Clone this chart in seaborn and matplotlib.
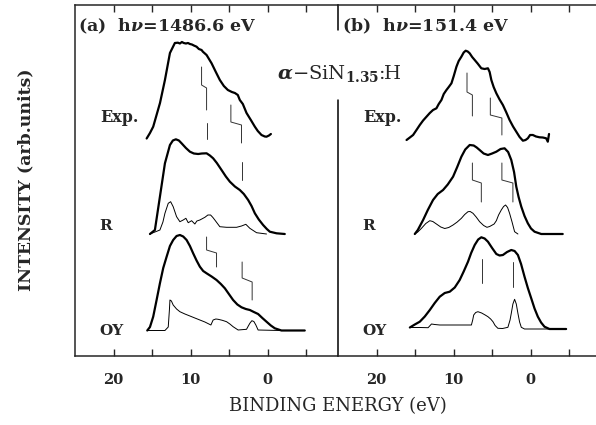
import matplotlib
matplotlib.use("Agg")
import matplotlib.pyplot as plt
import seaborn as sns

sns.set_style("ticks")
plt.rcParams['font.family'] = ['DejaVu Serif']
plt.rcParams['mathtext.fontset'] = 'dejavuserif'

# ---- data (binding energy in eV, intensity in arb. units) ----
# panel (a) hv = 1486.6 eV
a_exp_e = [15.71, 15.28, 14.86, 13.98, 13.34, 12.69, 12.05, 11.66, 11.40, 11.14, 10.90, 10.62,
           10.35, 10.10, 9.84, 9.59, 9.24, 8.94, 8.59, 8.42, 7.94, 7.29, 6.74, 6.22, 5.70, 5.18,
           4.66, 4.27, 3.89, 3.63, 3.24, 2.76, 2.20, 1.68, 1.30, 0.82, 0.39, 0.17, -0.15, -0.40]
a_exp_i = [1.5, 7, 13.3, 37, 60, 87, 97, 97.3, 96.5, 98, 97, 96.5, 97, 96, 95.5, 94.5, 93.3,
           91, 90, 88.3, 85, 76.7, 68, 60, 54, 50, 48, 47, 45, 40, 36, 27, 20, 13.3, 9, 5, 3.5,
           3.3, 4.5, 6]
a_r_e = [15.28, 14.64, 13.99, 13.34, 12.69, 12.31, 11.92, 11.53, 11.18, 10.62, 10.10, 9.59,
         9.03, 8.55, 7.94, 7.51, 7.09, 6.61, 6.00, 5.44, 4.92, 4.27, 3.63, 3.11, 2.55, 2.11,
         1.68, 1.17, 0.61, 0.13, -0.26, -1.13, -2.20]
a_r_i = [0, 4, 37.3, 70.7, 89, 93.5, 94.7, 93.5, 90.7, 86, 82.3, 80.5, 80, 80.5, 80.7, 78.5,
         75.7, 71, 64, 57.5, 52.3, 47.5, 44, 40, 34, 28, 20.7, 14.5, 9, 5, 2.3, 0.7, 0]
a_rt_e = [15.28, 13.99, 13.60, 13.34, 12.91, 12.60, 12.27, 11.83, 11.40, 10.97, 10.62, 10.32,
          9.88, 9.46, 9.20, 8.81, 8.16, 7.77, 7.42, 7.12, 6.87, 6.22, 5.35, 4.05, 3.41, 2.85,
          2.33, 1.46, 0.17]
a_rt_i = [0, 4, 12, 20.7, 30.7, 32.3, 27.3, 17.3, 12.3, 14, 15.7, 11.3, 13.3, 10, 13, 14, 16.7,
          19, 19, 16.5, 14, 7.3, 6.7, 6.7, 8, 9.7, 5.7, 1.3, 0]
a_oy_e = [15.63, 15.28, 14.86, 14.42, 13.99, 13.56, 13.12, 12.69, 12.27, 11.83, 11.40, 10.97,
          10.53, 10.10, 9.68, 9.24, 8.81, 8.38, 7.94, 7.29, 6.65, 6.09, 5.57, 5.05, 4.50, 3.95,
          3.41, 2.85, 2.33, 1.81, 1.26, 0.71, 0.17, -0.39, -0.91, -1.77, -4.79]
a_oy_i = [0, 3.5, 13.8, 30.5, 47.2, 62.5, 73.8, 84.5, 90.5, 94.5, 95.5, 94, 90.5, 84.5, 77.2,
          70, 63.8, 59.5, 57.2, 54, 50.5, 46.5, 42.2, 36.5, 30.5, 26, 23.2, 21.5, 20.5, 18.5,
          16.5, 12.5, 8.8, 5, 2.2, 0, 0]
a_oyt_e = [15.63, 13.34, 12.91, 12.76, 12.69, 12.50, 12.27, 11.83, 11.40, 10.75, 10.10, 9.46,
           8.81, 8.16, 7.38, 7.09, 6.74, 6.44, 5.90, 5.35, 4.92, 4.50, 3.85, 2.76, 2.53, 2.33,
           2.07, 1.81, 1.55, 1.26, -1.55]
a_oyt_i = [0, 0, 3.5, 20.5, 30.5, 29.5, 25.5, 21.5, 18.8, 16.5, 14.5, 12.5, 10.5, 8.5, 5.5,
           10.5, 11.5, 11.2, 10.2, 8.8, 6.5, 3.8, 0.5, 1.2, 4.5, 7.2, 9.8, 9, 5.5, 0.5, 0]

# panel (b) hv = 151.4 eV
b_exp_e = [16.10, 15.67, 15.25, 14.81, 14.38, 13.95, 13.51, 13.08, 12.66, 12.22, 11.92, 11.57,
           11.27, 10.92, 10.62, 10.27, 9.97, 9.62, 9.33, 8.98, 8.68, 8.42, 8.16, 7.90, 7.58,
           7.25, 6.87, 6.39, 5.96, 5.53, 5.31, 5.09, 4.79, 4.44, 4.02, 3.59, 3.17, 2.72, 2.27,
           1.85, 1.42, 0.99, 0.65, 0.35, 0.06, -0.30, -0.71, -1.17, -1.59, -2.03, -2.24, -2.40]
b_exp_i = [0, 2.5, 5, 10, 15, 19.5, 23.3, 27, 30, 31.7, 36, 40, 46, 50, 53, 56.7, 64, 73.3, 79,
           83.3, 87.5, 89.3, 88.5, 86.7, 83, 80, 76.5, 71.7, 71, 71.7, 68, 60, 53, 46.7, 40.5,
           35, 28, 20, 13.5, 8.3, 3, -0.7, 0, 1.7, 5, 5, 3.5, 2.7, 2.5, 1.7, -1.7, 6]
b_r_e = [15.03, 14.64, 13.95, 13.34, 12.66, 12.05, 11.36, 10.75, 10.06, 9.52, 8.98, 8.48, 7.90,
         7.38, 6.99, 6.61, 6.09, 5.53, 4.99, 4.44, 3.89, 3.37, 2.91, 2.50, 2.14, 1.85, 1.55,
         1.20, 0.78, 0.35, -0.06, -0.52, -1.39, -4.18]
b_r_i = [0, 4, 14, 24, 34, 40, 44, 49.5, 57.3, 67, 77.3, 84.5, 89, 88.5, 86.5, 84, 80.5, 79,
         80.5, 82.3, 85, 85.7, 82, 74, 62, 47.3, 37, 27.3, 18, 10.7, 5.5, 2.3, 0, 0]
b_rt_e = [15.03, 14.64, 14.16, 13.60, 13.08, 12.69, 12.22, 11.66, 11.14, 10.62, 10.06, 9.52,
          8.98, 8.55, 8.12, 7.84, 7.47, 7.06, 6.61, 6.09, 5.66, 5.31, 4.96, 4.73, 4.44, 4.15,
          3.80, 3.50, 3.24, 2.98, 2.72, 2.40, 2.07, 1.64]
b_rt_i = [0, 2, 5.7, 10.5, 13.3, 12.5, 10, 7, 5.5, 6.5, 9, 12, 15.7, 19.5, 22.3, 22.5, 20.7, 17,
          12.3, 8.5, 6.7, 7.5, 9, 10, 13.3, 19, 24, 27.5, 29, 26.5, 20.7, 12, 2.3, 0]
b_oy_e = [15.67, 15.03, 14.38, 13.73, 13.08, 12.44, 11.79, 11.14, 10.49, 9.84, 9.20, 8.68,
          8.12, 7.71, 7.25, 6.80, 6.39, 5.96, 5.53, 4.99, 4.44, 4.02, 3.59, 3.05, 2.50, 2.07,
          1.64, 1.23, 0.78, 0.35, -0.09, -0.52, -0.95, -1.37, -1.81, -2.46, -4.62]
b_oy_i = [1.5, 4.5, 7.3, 12.5, 19, 26, 32.3, 36, 37.3, 41.5, 49, 57.5, 67.3, 76, 84, 89.5,
          91.7, 90.5, 87.3, 81, 75, 73.5, 74, 77, 79, 78, 74, 65, 52.3, 41, 30.7, 20.5, 12.3,
          6.5, 2.3, 0, 0]
b_oyt_e = [15.67, 14.38, 13.30, 12.86, 12.44, 11.79, 9.84, 7.68, 7.51, 7.38, 7.12, 6.83, 6.35,
           5.89, 5.53, 5.18, 4.88, 4.60, 4.24, 3.63, 2.94, 2.66, 2.50, 2.29, 2.07, 1.85, 1.64,
           1.42, 1.20, 0.78, -4.62]
b_oyt_i = [1.5, 1.5, 1.3, 5, 4.5, 4, 4, 4, 9, 14, 16.5, 17.3, 16, 14, 12.3, 10, 7.3, 3.5, 0.7,
           0.5, 1.7, 9, 15.7, 25, 29.7, 25, 15.7, 7, 1.7, 0, 0]

# vertical offsets of the stacked spectra
a_offsets = {'Exp.': 216, 'R': 122, 'OY': 25.5}
b_offsets = {'Exp.': 216, 'R': 122, 'OY': 27}

# peak-position guide lines (energy, absolute intensity)
a_guides = [([8.59, 8.59, 7.94, 7.94], [289, 271, 268, 246]),
            ([7.94, 7.94], [233, 217]),
            ([4.79, 4.79, 3.41, 3.41], [251, 234, 231, 213]),
            ([3.41, 3.41], [194, 176]),
            ([7.94, 7.94, 6.65, 6.65], [119, 106, 103, 89]),
            ([3.33, 3.33, 2.03, 2.03], [94, 78, 74, 56])]
b_guides = [([8.25, 8.25, 7.55, 7.55], [283, 264, 261, 240]),
            ([5.22, 5.22, 3.72, 3.72], [258, 241, 238, 221]),
            ([7.55, 7.55, 6.39, 6.39], [193, 176, 173, 154]),
            ([3.72, 3.72, 2.29, 2.29], [193, 176, 173, 154]),
            ([6.31, 6.31], [97, 73]),
            ([2.29, 2.29], [94, 69])]

ticks = [20, 15, 10, 5, 0, -5]
tick_labels = ['20', '', '10', '', '0', '']

panels = [
    dict(title=r'(a)  h$\boldsymbol{\nu}$=1486.6 eV', offsets=a_offsets, guides=a_guides,
         thick=[('Exp.', a_exp_e, a_exp_i), ('R', a_r_e, a_r_i), ('OY', a_oy_e, a_oy_i)],
         thin=[('R', a_rt_e, a_rt_i), ('OY', a_oyt_e, a_oyt_i)],
         xlim=(25, -9.1), rect=[75 / 596, 1 - 356 / 425, 263 / 596, 351 / 425]),
    dict(title=r'(b)  h$\boldsymbol{\nu}$=151.4 eV', offsets=b_offsets, guides=b_guides,
         thick=[('Exp.', b_exp_e, b_exp_i), ('R', b_r_e, b_r_i), ('OY', b_oy_e, b_oy_i)],
         thin=[('R', b_rt_e, b_rt_i), ('OY', b_oyt_e, b_oyt_i)],
         xlim=(25, -8.5), rect=[338 / 596, 1 - 356 / 425, 258 / 596, 351 / 425]),
]

# row labels: (energy, intensity, font size)
label_pos = {'Exp.': (19.2, 238, 11.5), 'R': (21.0, 130, 11), 'OY': (20.3, 25, 11)}

fig = plt.figure(figsize=(5.96, 4.25), dpi=100)

for i, p in enumerate(panels):
    ax = fig.add_axes(p['rect'])
    for name, e, inten in p['thick']:
        off = p['offsets'][name]
        sns.lineplot(x=e, y=[v + off for v in inten], ax=ax, color='black', linewidth=1.6,
                     sort=False, estimator=None)
    for name, e, inten in p['thin']:
        off = p['offsets'][name]
        sns.lineplot(x=e, y=[v + off for v in inten], ax=ax, color='black', linewidth=0.7,
                     sort=False, estimator=None)
    for ge, gy in p['guides']:
        ax.plot(ge, gy, color='#333333', linewidth=0.7)
    for name, (lx, ly, fs) in label_pos.items():
        ax.text(lx, ly, name, ha='center', va='center', fontsize=fs, fontweight='bold')

    ax.text(0.01 if i == 0 else 0.016, 0.94, p['title'], transform=ax.transAxes,
            ha='left', va='center', fontsize=12.5, fontweight='bold')

    ax.set_xlim(*p['xlim'])
    ax.set_ylim(0, 351)
    ax.set_yticks([])
    ax.set_xticks(ticks)
    ax.set_xticklabels(tick_labels, fontweight='bold', fontsize=10.5)
    ax.tick_params(axis='x', direction='in', length=5, width=1, top=True, pad=12)
    for s in ax.spines.values():
        s.set_linewidth(1.1)
    ax.spines['right'].set_visible(False)
    if i == 1:
        ax.spines['left'].set_visible(False)
        ax.axvline(25, ymin=0, ymax=0.73, color='black', linewidth=1.1, clip_on=False)
        ax.axvline(25, ymin=0.93, ymax=1, color='black', linewidth=1.1, clip_on=False)

fig.text(339 / 596, 1 - 73 / 425, r'$\boldsymbol{\alpha}$$-$SiN$_{\mathbf{1.35}}$:H',
         ha='center', va='center', fontsize=14)
fig.text(338 / 596, 1 - 406 / 425, 'BINDING ENERGY (eV)', ha='center', va='center',
         fontsize=13)
fig.text(26 / 596, 1 - 180 / 425, 'INTENSITY (arb.units)', ha='center', va='center',
         rotation=90, fontsize=12.5, fontweight='bold')

fig.savefig('out.png', dpi=100)
